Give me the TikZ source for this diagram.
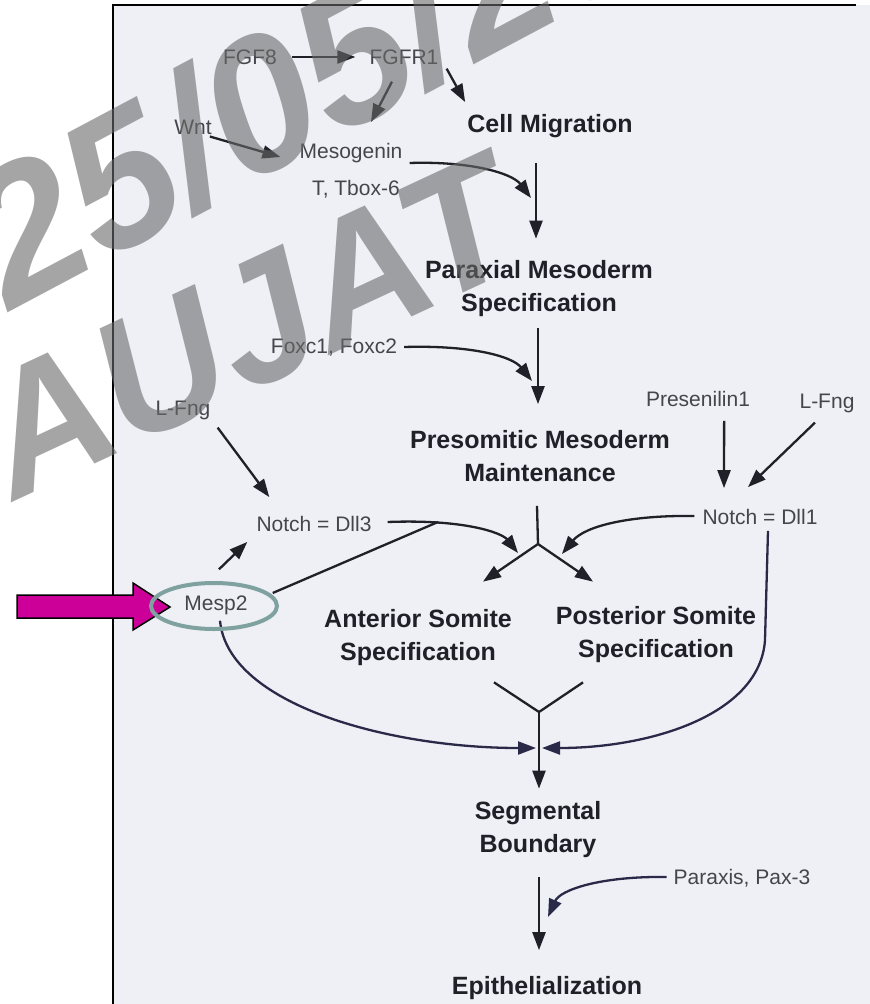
\documentclass[tikz,border=0pt]{standalone}
\usepackage{fontspec}
\setmainfont{Liberation Sans}
\usetikzlibrary{arrows.meta,calc}
\definecolor{ink}{HTML}{202028}
\definecolor{arcink}{HTML}{2A2A48}
\definecolor{soft}{HTML}{45454C}
\definecolor{paper}{HTML}{EEF0F6}
\definecolor{pointer}{HTML}{CC0099}
\definecolor{ring}{HTML}{7FA19F}
\definecolor{stamp}{HTML}{6A6A6A}
\begin{document}
\begin{tikzpicture}[x=1pt,y=-1pt,
  lbl/.style={font=\fontsize{21}{25}\selectfont, text=soft, inner sep=0pt},
  head/.style={font=\bfseries\fontsize{25}{33}\selectfont, text=ink, align=center, inner sep=0pt},
  conn/.style={draw=ink, line width=2.3pt},
  arr/.style={conn, -{Triangle[length=18pt,width=13pt]}},
  bigarc/.style={arr, draw=arcink},
  stamptext/.style={font=\bfseries\itshape\fontsize{#1}{#1}\selectfont, text=stamp, opacity=0.6, anchor=base west, inner sep=0pt},
]
\useasboundingbox (0,0) rectangle (870,1004);
% page and its frame
\fill[white] (0,0) rectangle (870,1004);
\fill[paper] (113,5) rectangle (870,1004);
\draw[black, line width=2.5pt] (113,1004) -- (113,5) -- (856,5);

% labels
\node[lbl] (fgf8) at (250,57) {FGF8};
\node[lbl] (fgfr1) at (404,57) {FGFR1};
\node[lbl] (wnt) at (193,127) {Wnt};
\node[lbl] (meso) at (351,153) {Mesogenin};
\node[lbl] (tbox) at (356,189) {T, Tbox-6};
\node[head] (cell) at (550,126) {Cell Migration};
\node[head] (pms) at (539,289) {Paraxial Mesoderm\\Specification};
\node[lbl] (foxc) at (334,348) {Foxc1, Foxc2};
\node[head] (psm) at (540,456) {Presomitic Mesoderm\\Maintenance};
\node[lbl] (lfngA) at (183,410) {L-Fng};
\node[lbl] (pres) at (698,399) {Presenilin1};
\node[lbl] (lfngB) at (827,403) {L-Fng};
\node[lbl] (dll3) at (314,524) {Notch = Dll3};
\node[lbl] (dll1) at (760,517) {Notch = Dll1};
\node[lbl] (mesp) at (216,605) {Mesp2};
\node[head] (ant) at (418,638) {Anterior Somite\\Specification};
\node[head] (post) at (656,635) {Posterior Somite\\Specification};
\node[head] (seg) at (538,830) {Segmental\\Boundary};
\node[lbl] (pax) at (742,878) {Paraxis, Pax-3};
\node[head] (epi) at (547,988) {Epithelialization};

% junction points
\coordinate (split) at (538,544);
\coordinate (ymerge) at (539,712);
\coordinate (d3bend) at (438,522);

% upper cascade
\draw[arr] ($(fgf8.east)+(15,0)$) -- ($(fgfr1.west)+(-14,0)$);
\draw[arr] ($(fgfr1.south)+(-12,17)$) -- ($(meso.north)+(20,-21)$);
\draw[arr] ($(fgfr1.south east)+(8,4)$) -- ($(cell.north west)+(-2,-12)$);
\draw[arr] ($(wnt.south east)+(-2,2)$) -- ($(meso.west)+(-19,4)$);
\draw[arr] ($(cell.south)+(-14,25)$) -- ($(pms.north)+(-3,-22)$);
\draw[arr] ($(meso.south east)+(7,0)$) .. controls (470,161) and (512,173) .. (531,198);
\draw[arr] ($(pms.south)+(-1,11)$) -- ($(psm.north)+(-2,-26)$);
\draw[arr] ($(foxc.east)+(7,-1)$) .. controls (470,345) and (512,356) .. (532,381);

% Notch inputs
\draw[arr] ($(lfngA.south east)+(7,8)$) -- ($(dll3.north west)+(13,-19)$);
\draw[arr] ($(pres.south east)+(-26,14)$) -- ($(dll1.north)+(-36,-21)$);
\draw[arr] ($(lfngB.south)+(-12,10)$) -- ($(dll1.north)+(-12,-22)$);
\draw[arr] ($(mesp.north)+(3,-26)$) -- ($(dll3.south west)+(-9,10)$);
\draw[conn] ($(mesp.east)+(25,-12)$) -- (d3bend);
\draw[arr] ($(dll3.east)+(16,-2)$) .. controls (465,519) and (502,533) .. (518,553);
\draw[arr] ($(dll1.west)+(-8,-1)$) .. controls (630,515) and (585,526) .. (562,554);

% branching to the somite halves
\draw[conn] ($(psm.south)+(-3,24)$) -- (split);
\draw[arr] (split) -- ($(ant.north)+(65,-28)$);
\draw[arr] (split) -- ($(post.north)+(-63,-25)$);

% loops closing on the boundary
\draw[bigarc] ($(mesp.south)+(4,6)$) .. controls (228,705) and (390,748) .. (536,748);
\draw[bigarc] ($(dll1.south)+(8,6)$) -- (765,640) .. controls (760,715) and (650,748) .. (542,748);
\draw[conn] ($(ant.south)+(76,16)$) -- (ymerge);
\draw[conn] ($(post.south)+(-73,19)$) -- (ymerge);
\draw[arr] (ymerge) -- ($(seg.north)+(1,-13)$);
\draw[arr] ($(seg.south)+(1,19)$) -- ($(epi.north)+(-8,-26)$);
\draw[bigarc] ($(pax.west)+(-7,-1)$) .. controls (600,876) and (560,890) .. (548,917);

% pointer and ring around Mesp2
\draw[pointer, fill=pointer, draw=black, line width=1.5pt]
  (17,595) -- (133,595) -- (133,583) -- (170,607) -- (133,630) -- (133,618) -- (17,618) -- cycle;
\draw[ring, line width=4pt] (214,606) ellipse [x radius=63, y radius=23];

% stamp
\node[stamptext=190, rotate=28] (stampA) at (10,312) {25/05/20};
\node[stamptext=175, rotate=25] (stampB) at (14,502) {AUJAT};
\end{tikzpicture}
\end{document}
